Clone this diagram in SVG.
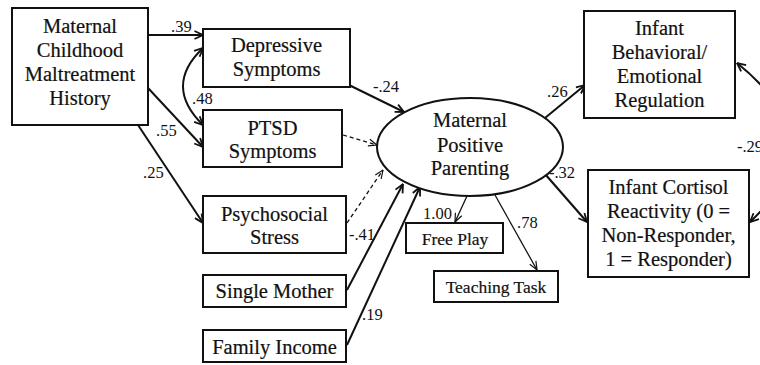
<svg xmlns="http://www.w3.org/2000/svg" width="760" height="365" viewBox="0 0 760 365">
<style>
.box{fill:#fff;stroke:#111;stroke-width:2}
.t{font-family:'Liberation Serif','Times New Roman',serif;font-size:20.5px;fill:#111;text-anchor:middle;stroke:#111;stroke-width:0.2}
.s{font-size:17.5px}
.lbl{font-family:'Liberation Serif','Times New Roman',serif;font-size:16.5px;fill:#111}
.c{fill:none;stroke:#111;stroke-width:2}
.thin{fill:none;stroke:#111;stroke-width:1.3}
.dash{fill:none;stroke:#111;stroke-width:1.3;stroke-dasharray:4 3}
</style>
<defs>
<marker id="a" viewBox="0 0 10 10" refX="9.5" refY="5" markerWidth="10" markerHeight="10" markerUnits="userSpaceOnUse" orient="auto-start-reverse">
<path d="M1,1 L9.5,5 L1,9" fill="none" stroke="#111" stroke-width="1.8"/>
</marker>
<marker id="b" viewBox="0 0 10 10" refX="9.5" refY="5" markerWidth="10" markerHeight="10" markerUnits="userSpaceOnUse" orient="auto-start-reverse">
<path d="M1,1.5 L9.5,5 L1,8.5" fill="none" stroke="#111" stroke-width="1.2"/>
</marker>
</defs>
<g id="connectors">
<path class="c" d="M148,35 L203,35" marker-end="url(#a)"/>
<path class="c" d="M203,48 Q163,86 203,125" marker-start="url(#a)" marker-end="url(#a)"/>
<path class="c" d="M148,88 L203,147" marker-end="url(#a)"/>
<path class="c" d="M138,125 L203,223" marker-end="url(#a)"/>
<path class="c" d="M349,85 L404,112" marker-end="url(#a)"/>
<path class="dash" d="M343,135 L377,145" marker-end="url(#b)"/>
<path class="dash" d="M347,223 L383,170" marker-end="url(#b)"/>
<path class="c" d="M347,290 L403,184" marker-end="url(#a)"/>
<path class="c" d="M347,345 L420,187" marker-end="url(#a)"/>
<path class="thin" d="M467,196 L455,222" marker-end="url(#b)"/>
<path class="thin" d="M495,195 L537,270" marker-end="url(#b)"/>
<path class="c" d="M545,118 L585,85" marker-end="url(#a)"/>
<path class="c" d="M545,174 L587,222" marker-end="url(#a)"/>
<path class="c" d="M737,63 Q836,142 750,222" marker-start="url(#a)" marker-end="url(#a)"/>
<text class="lbl" x="171" y="32">.39</text>
<text class="lbl" x="192" y="104">.48</text>
<text class="lbl" x="156" y="136">.55</text>
<text class="lbl" x="143" y="178">.25</text>
<text class="lbl" x="373" y="92">-.24</text>
<text class="lbl" x="349" y="240">-.41</text>
<text class="lbl" x="362" y="320">.19</text>
<text class="lbl" x="423" y="219">1.00</text>
<text class="lbl" x="517" y="228">.78</text>
<text class="lbl" x="547" y="97">.26</text>
<text class="lbl" x="549" y="178">-.32</text>
<text class="lbl" x="737" y="152">-.29</text>
</g>
<g id="maltreatment">
<rect class="box" x="12" y="8" width="136" height="117"/>
<text class="t" x="80" y="32.5">Maternal</text>
<text class="t" x="80" y="56.5">Childhood</text>
<text class="t" x="80" y="80.5">Maltreatment</text>
<text class="t" x="80" y="104.5">History</text>
</g>
<g id="depressive">
<rect class="box" x="203" y="29" width="147" height="58"/>
<text class="t" x="276.5" y="52">Depressive</text>
<text class="t" x="276.5" y="76">Symptoms</text>
</g>
<g id="ptsd">
<rect class="box" x="203" y="110" width="139" height="57"/>
<text class="t" x="272.5" y="135">PTSD</text>
<text class="t" x="272.5" y="158">Symptoms</text>
</g>
<g id="psychosocial">
<rect class="box" x="203" y="196" width="143" height="57"/>
<text class="t" x="274.5" y="221">Psychosocial</text>
<text class="t" x="274.5" y="244">Stress</text>
</g>
<g id="single">
<rect class="box" x="203" y="275" width="143" height="32"/>
<text class="t" x="274.5" y="298">Single Mother</text>
</g>
<g id="income">
<rect class="box" x="203" y="330" width="143" height="32"/>
<text class="t" x="274.5" y="354">Family Income</text>
</g>
<g id="parenting">
<ellipse class="box" cx="470" cy="147" rx="93" ry="49"/>
<text class="t" x="470" y="127">Maternal</text>
<text class="t" x="470" y="152">Positive</text>
<text class="t" x="470" y="175">Parenting</text>
</g>
<g id="freeplay">
<rect class="box" x="406" y="223" width="97" height="30"/>
<text class="t s" x="455" y="245">Free Play</text>
</g>
<g id="teaching">
<rect class="box" x="434" y="271" width="124" height="31"/>
<text class="t s" x="496" y="293">Teaching Task</text>
</g>
<g id="behavioral">
<rect class="box" x="584" y="11" width="151" height="107"/>
<text class="t" x="659.5" y="35">Infant</text>
<text class="t" x="659.5" y="59">Behavioral/</text>
<text class="t" x="659.5" y="83">Emotional</text>
<text class="t" x="659.5" y="107">Regulation</text>
</g>
<g id="cortisol">
<rect class="box" x="588" y="170" width="161" height="107"/>
<text class="t" x="668.5" y="194">Infant Cortisol</text>
<text class="t" x="668.5" y="218">Reactivity (0 =</text>
<text class="t" x="668.5" y="242">Non-Responder,</text>
<text class="t" x="668.5" y="266">1 = Responder)</text>
</g>
</svg>
